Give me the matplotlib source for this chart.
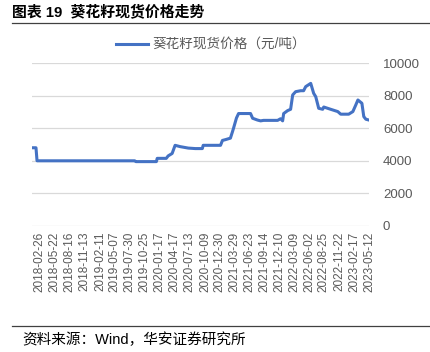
import pandas as pd
import matplotlib
matplotlib.use('Agg')
from matplotlib import pyplot as plt
from matplotlib.lines import Line2D

plt.rcParams['font.family'] = ['Liberation Sans', 'Noto Sans CJK SC', 'DejaVu Sans']

# Data (yuan/ton)
dates = ['2018-01-15', '2018-02-07', '2018-02-13', '2019-08-30', '2019-09-06',
         '2020-01-02', '2020-01-07', '2020-02-28', '2020-03-10', '2020-04-02',
         '2020-04-19', '2020-05-18', '2020-07-04', '2020-08-13', '2020-09-23',
         '2020-09-28', '2021-01-06', '2021-01-17', '2021-02-04', '2021-03-04',
         '2021-03-16', '2021-03-22', '2021-04-08', '2021-04-20', '2021-06-28',
         '2021-07-10', '2021-08-07', '2021-08-25', '2021-09-11', '2021-12-01',
         '2021-12-18', '2021-12-30', '2022-01-05', '2022-01-28', '2022-02-14',
         '2022-02-26', '2022-03-15', '2022-04-13', '2022-04-30', '2022-05-12',
         '2022-06-10', '2022-06-27', '2022-07-09', '2022-07-26', '2022-08-18',
         '2022-08-24', '2022-10-03', '2022-11-13', '2022-11-30', '2023-01-15',
         '2023-02-08', '2023-02-25', '2023-03-09', '2023-04-01', '2023-04-12',
         '2023-04-24', '2023-05-12']
price = [4800, 4800, 4000, 4000, 3950,
         3950, 4150, 4150, 4300, 4450,
         4950, 4870, 4780, 4750, 4750,
         4950, 4950, 5250, 5300, 5390,
         5790, 6000, 6630, 6900, 6900,
         6610, 6500, 6450, 6480, 6480,
         6580, 6450, 6900, 7080, 7160,
         8040, 8240, 8300, 8300, 8550,
         8750, 8140, 7930, 7220, 7160,
         7300, 7160, 7020, 6860, 6860,
         7020, 7430, 7730, 7530, 6710,
         6550, 6500]
tick_labels = ['2018-02-26', '2018-05-22', '2018-08-16', '2018-11-13', '2019-02-11',
               '2019-05-07', '2019-07-30', '2019-10-25', '2020-01-17', '2020-04-17',
               '2020-07-13', '2020-10-09', '2020-12-30', '2021-03-29', '2021-06-23',
               '2021-09-14', '2021-12-10', '2022-03-09', '2022-06-02', '2022-08-25',
               '2022-11-22', '2023-02-17', '2023-05-12']
y_ticks = [0, 2000, 4000, 6000, 8000, 10000]

x = pd.to_datetime(dates)
xt = pd.to_datetime(tick_labels)
blue = '#4472C4'
gray = '#595959'

fig = plt.figure(figsize=(4.3, 3.52), dpi=100)
ax = fig.add_axes([32/430, 1-226/352, 337/430, 163/352])

ax.plot(x, price, color=blue, lw=2.2, solid_joinstyle='round')
ax.set_xlim(x[0], x[-1])
ax.set_ylim(0, 10000)
ax.set_yticks(y_ticks)
ax.yaxis.tick_right()
ax.grid(axis='y', color='#d9d9d9', lw=0.9)
ax.set_axisbelow(True)
for s in ax.spines.values():
    s.set_visible(False)
ax.tick_params(axis='y', length=0, pad=10, labelsize=9.5, labelcolor=gray)
ax.set_xticks(xt)
ax.set_xticklabels(tick_labels, rotation=90, fontsize=8.5, color=gray)
ax.tick_params(axis='x', length=0, pad=4)

# legend
ax.legend([Line2D([0], [0], color=blue, lw=2.2)], ['葵花籽现货价格（元/吨）'],
          loc='center left', bbox_to_anchor=(116/430, 1-45/352), bbox_transform=fig.transFigure,
          frameon=False, fontsize=9.8, handlelength=2.35, handletextpad=0.3,
          borderpad=0, borderaxespad=0, labelcolor=gray)

# title, rules and source
fig.text(12/430, 1-12/352, '图表 19  葵花籽现货价格走势', fontsize=10.7, fontweight='heavy',
         va='center', ha='left')
fig.add_artist(Line2D([12/430, 1], [1-23/352, 1-23/352], color='#404040', lw=0.9))
fig.add_artist(Line2D([12/430, 1], [1-326/352, 1-326/352], color='#404040', lw=0.9))
fig.text(22/430, 1-340/352, '资料来源：Wind，华安证券研究所', fontsize=10.5, va='center', ha='left')

plt.savefig('out.png', dpi=100)
plt.close()
